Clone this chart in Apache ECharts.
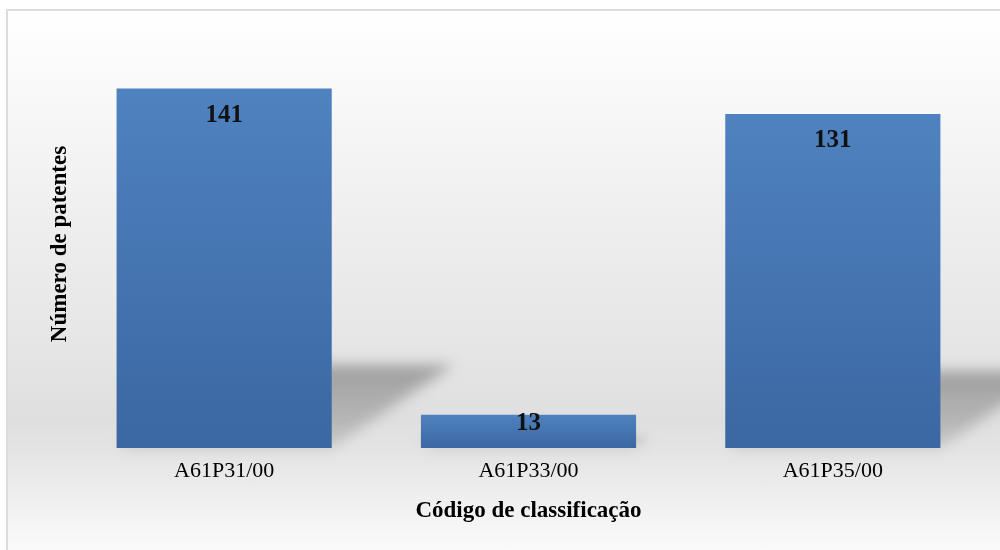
<!DOCTYPE html>
<html>
<head>
<meta charset="utf-8">
<script src="https://cdn.jsdelivr.net/npm/echarts@6/dist/echarts.min.js"></script>
<style>
  html, body { margin: 0; padding: 0; width: 1000px; height: 550px; overflow: hidden; background: #ffffff; }
  #frame {
    position: absolute; left: 6px; top: 9px; width: 1010px; height: 560px;
    border: 2px solid #dcdcdc;
    background: linear-gradient(to bottom, #ffffff 0px, #f8f8f8 90px, #efefef 200px, #e6e6e6 330px, #dfdfdf 410px, #e6e6e6 450px, #f2f2f2 500px, #fbfbfb 541px);
  }
  #chart { position: absolute; left: 0; top: 0; width: 1000px; height: 550px; }
</style>
</head>
<body>
<div id="frame"></div>
<div id="chart"></div>
<script>
// Patents per classification code
const categories = ['A61P31/00', 'A61P33/00', 'A61P35/00'];
const patentCounts = [141, 13, 131];

const serif = '"Liberation Serif", "Times New Roman", "DejaVu Serif", serif';
const BAR_RATIO = 0.707;

const chart = echarts.init(document.getElementById('chart'), null, { renderer: 'canvas' });

// Perspective shadow cast behind each bar, drawn off-canvas and shifted back
// through the canvas shadow so only its blurred silhouette shows.
function renderShadow(params, api) {
  const idx = api.value(0);
  const val = api.value(1);
  const base = api.coord([idx, 0]);
  const top = api.coord([idx, val]);
  const half = api.size([1, 0])[0] * BAR_RATIO / 2;
  const h = (base[1] - top[1]) * 0.23;
  const shift = h * 1.47;
  const OFF = 3000;
  const xl = base[0] - half - OFF, xr = base[0] + half - OFF, y0 = base[1];
  return {
    type: 'polygon',
    shape: { points: [[xl, y0], [xr, y0], [xr + shift, y0 - h], [xl + shift, y0 - h]] },
    style: {
      fill: new echarts.graphic.LinearGradient(0, 0, 0, 1, [
        { offset: 0, color: 'rgba(0,0,0,1)' },
        { offset: 1, color: 'rgba(0,0,0,0.4)' }
      ]),
      shadowColor: 'rgba(0,0,0,0.3)',
      shadowBlur: 14,
      shadowOffsetX: OFF,
      shadowOffsetY: 0
    }
  };
}

chart.setOption({
  animation: false,
  backgroundColor: 'transparent',
  grid: { left: 72, right: 15, top: 40, bottom: 102, containLabel: false },
  xAxis: {
    type: 'category',
    data: categories,
    axisLine: { show: false },
    axisTick: { show: false },
    axisLabel: { color: '#000', fontFamily: serif, fontSize: 22, margin: 12 },
    name: 'Código de classificação',
    nameLocation: 'middle',
    nameGap: 52,
    nameTextStyle: { color: '#000', fontFamily: serif, fontSize: 23, fontWeight: 'bold' }
  },
  yAxis: {
    type: 'value',
    min: 0,
    max: 160,
    splitLine: { show: false },
    axisLine: { show: false },
    axisTick: { show: false },
    axisLabel: { show: false },
    name: 'Número de patentes',
    nameLocation: 'middle',
    nameGap: 0,
    nameRotate: 90,
    nameTextStyle: { color: '#000', fontFamily: serif, fontSize: 23, fontWeight: 'bold' }
  },
  series: [
    {
      type: 'custom',
      z: 1,
      renderItem: renderShadow,
      encode: { x: 0, y: 1 },
      data: patentCounts.map((v, i) => [i, v]),
      silent: true
    },
    {
      type: 'bar',
      z: 2,
      barWidth: (BAR_RATIO * 100) + '%',
      data: patentCounts.map(v => ({
        value: v,
        label: { position: ['50%', v > 30 ? 27 : 9] }
      })),
      itemStyle: {
        color: new echarts.graphic.LinearGradient(0, 0, 0, 1, [
          { offset: 0, color: '#4f82c0' },
          { offset: 1, color: '#3b67a2' }
        ])
      },
      label: {
        show: true,
        align: 'center',
        verticalAlign: 'middle',
        color: '#111',
        fontFamily: serif,
        fontSize: 25,
        fontWeight: 'bold'
      }
    }
  ]
});
</script>
</body>
</html>
